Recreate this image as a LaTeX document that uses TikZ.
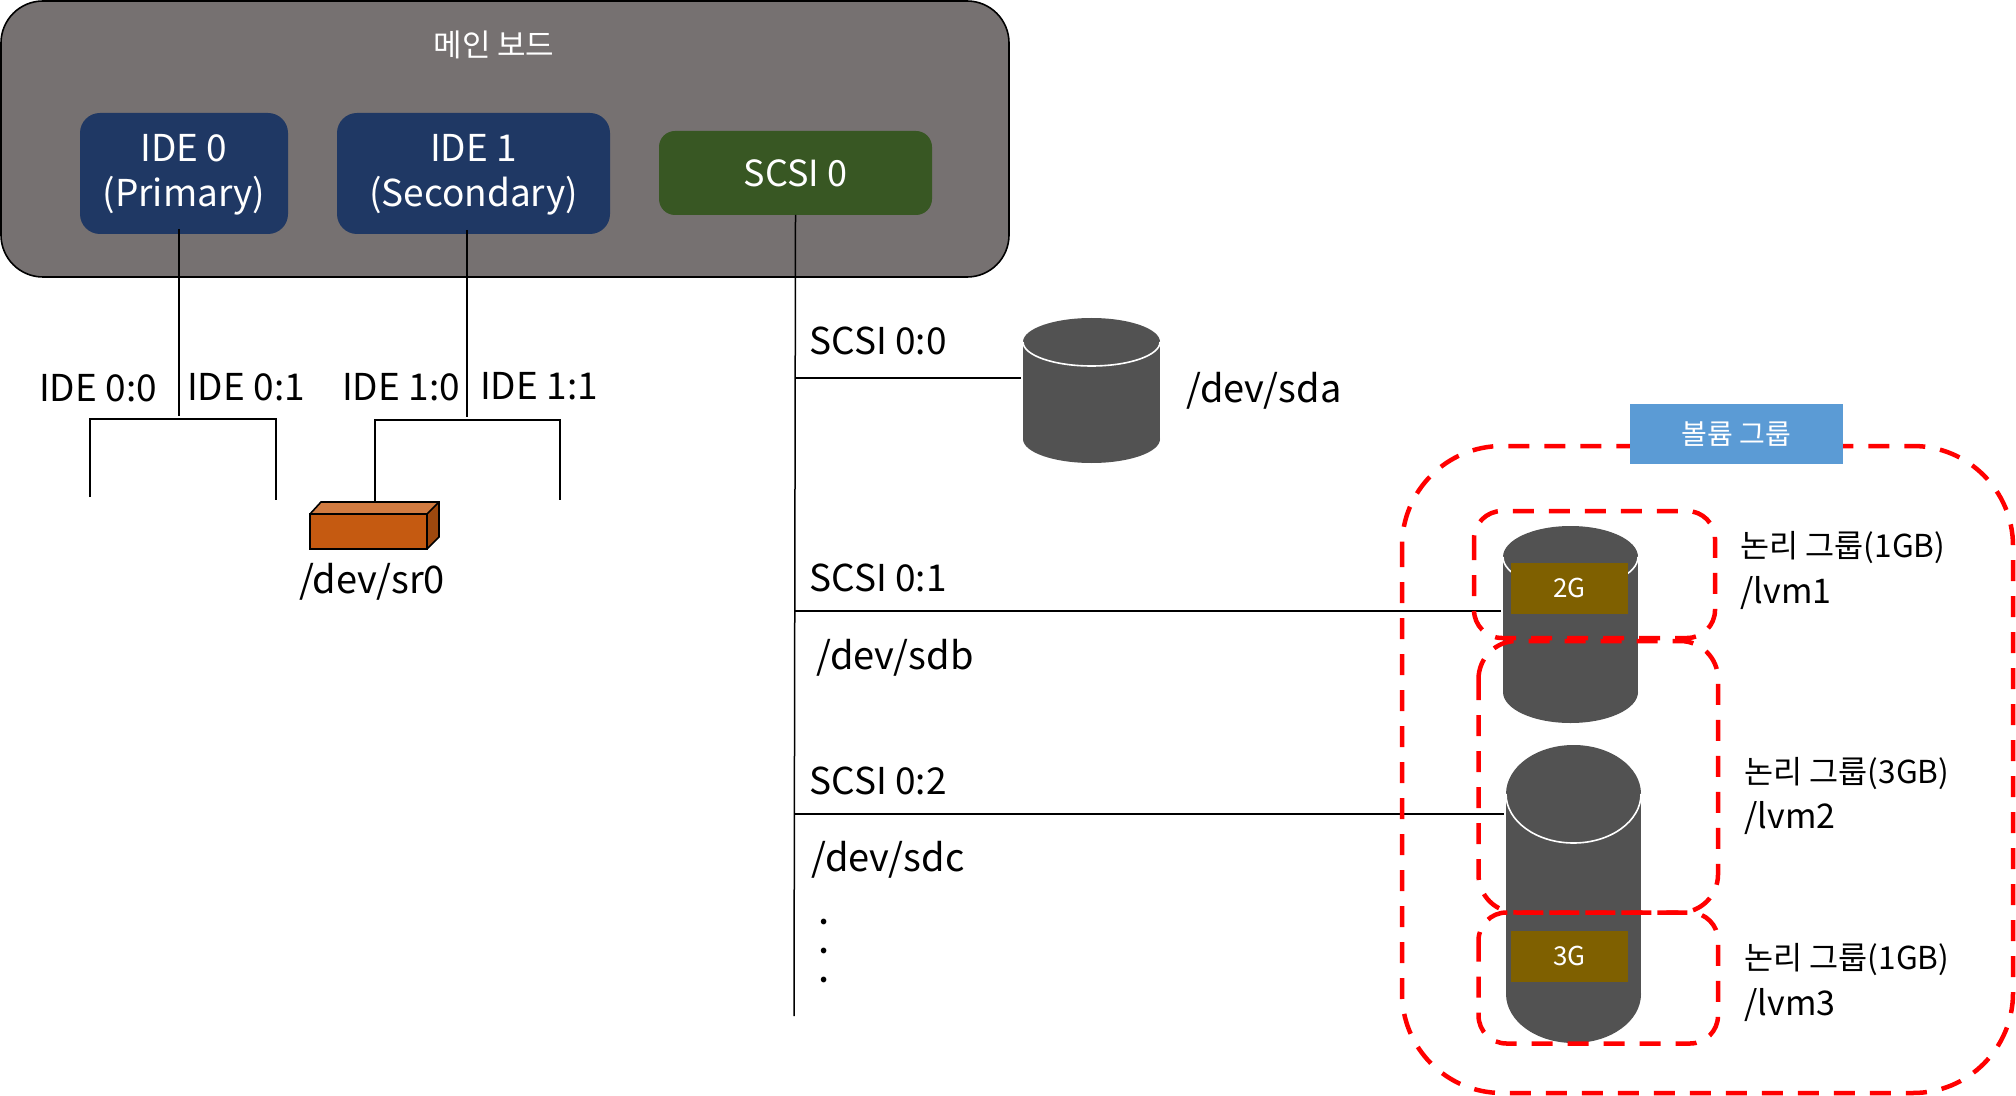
\documentclass[tikz,border=0pt]{standalone}
\usepackage{fontspec}
\setmainfont{Noto Sans CJK KR}
\definecolor{boardgray}{HTML}{767171}
\definecolor{idenavy}{HTML}{1F3864}
\definecolor{scsigreen}{HTML}{385723}
\definecolor{cylgray}{HTML}{525252}
\definecolor{olivebox}{HTML}{7F6000}
\definecolor{bluebox}{HTML}{5B9BD5}
\definecolor{brickfront}{HTML}{C55A11}
\definecolor{bricktop}{HTML}{D17B41}
\definecolor{brickside}{HTML}{9E480E}
\newcommand{\fsz}[1]{\fontsize{#1}{1.22\dimexpr #1pt\relax}\selectfont}
\tikzset{
  x=0.5pt,y=-0.5pt,
  box/.style={rectangle,inner sep=0pt,align=center,text=white},
  board/.style={box,fill=boardgray,draw=black,line width=0.8pt,rounded corners=21pt,minimum width=504pt,minimum height=138pt},
  ide/.style={box,fill=idenavy,rounded corners=10pt,minimum height=60.5pt,font=\fsz{18.5}},
  scsi/.style={box,fill=scsigreen,rounded corners=8pt,minimum width=136.5pt,minimum height=42pt,font=\fsz{18}},
  txt/.style={inner sep=0pt,text=black,font=\fsz{18.5}},
  devtxt/.style={inner sep=0pt,text=black,font=\fsz{19}},
  lvmtxt/.style={inner sep=0pt,anchor=west,text=black,font=\fsz{15.8}},
  pathtxt/.style={inner sep=0pt,anchor=west,text=black,font=\fsz{17}},
  wire/.style={draw=black,line width=0.75pt},
  group/.style={draw=red,line width=2.25pt,dash pattern=on 10.5pt off 7.5pt},
  tag/.style={box,fill=olivebox,minimum width=58.5pt,minimum height=25.5pt,font=\fsz{13}},
  brick/.style={draw=black,line width=0.8pt,line join=miter},
}
% left, right, ellipse centre y, ry, bottom y
\newcommand{\drum}[5]{%
  \pgfmathsetmacro{\drumcx}{(#1+#2)/2}%
  \pgfmathsetmacro{\drumrx}{(#2-#1)/4}%
  \pgfmathsetmacro{\drumry}{#4/2}%
  \fill[cylgray] (\drumcx,#3) ellipse[x radius=\drumrx pt,y radius=\drumry pt];
  \fill[cylgray] (\drumcx,#5-#4) ellipse[x radius=\drumrx pt,y radius=\drumry pt];
  \fill[cylgray] (#1,#3) rectangle (#2,#5-#4);
  \draw[white,line width=0.8pt] (#1,#3) arc[start angle=180,end angle=360,x radius=\drumrx pt,y radius=\drumry pt];
}
\begin{document}
\begin{tikzpicture}
\useasboundingbox (0,0) rectangle (2016,1096);

% main board
\node[board] (mb) at (505,139) {};
\node[box,font=\fsz{15.5}] (mbt) at (494,45) {메인 보드};
\node[ide,minimum width=104pt] (ide0) at (184,173.5) {\rule{0pt}{15pt}IDE 0\\(Primary)};
\node[ide,minimum width=136.5pt] (ide1) at (473.5,173.5) {\rule{0pt}{15pt}IDE 1\\(Secondary)};
\node[scsi] (scsi0) at (795.5,173) {SCSI 0};

% IDE wiring
\coordinate (a0) at (179,229);
\coordinate (b0) at (179,416);
\coordinate (l0a) at (90,419);
\coordinate (l0b) at (90,497);
\coordinate (r0a) at (276,419);
\coordinate (r0b) at (276,500);
\draw[wire] (a0) -- (b0);
\draw[wire] (l0b) -- (l0a) -- (r0a) -- (r0b);

\coordinate (a1) at (467,230);
\coordinate (b1) at (467,417);
\coordinate (l1a) at (375,420);
\coordinate (l1b) at (375,502);
\coordinate (r1a) at (560,420);
\coordinate (r1b) at (560,500);
\draw[wire] (a1) -- (b1);
\draw[wire] (l1b) -- (l1a) -- (r1a) -- (r1b);

\node[txt] (t00) at (98,388) {IDE 0:0};
\node[txt] (t01) at (246,387) {IDE 0:1};
\node[txt] (t10) at (401,387) {IDE 1:0};
\node[txt] (t11) at (539,386) {IDE 1:1};

% optical drive
\fill[brickfront] (310,514) rectangle (427,549);
\fill[bricktop] (310,514) -- (321,502) -- (439,502) -- (427,514) -- cycle;
\fill[brickside] (427,514) -- (439,502) -- (439,537) -- (427,549) -- cycle;
\draw[brick] (310,514) rectangle (427,549);
\draw[brick] (310,514) -- (321,502) -- (439,502) -- (439,537) -- (427,549);
\draw[brick] (427,514) -- (439,502);
\node[devtxt] (sr0) at (372,582) {/dev/sr0};

% SCSI wiring
\coordinate (s0) at (795.5,215);
\coordinate (s1) at (794,1016);
\coordinate (j0) at (795.3,378);
\coordinate (e0) at (1021,378);
\coordinate (j1) at (795,611);
\coordinate (e1) at (1501,611);
\coordinate (j2) at (794.7,814);
\coordinate (e2) at (1504,814);
\draw[wire] (s0) -- (s1);
\draw[wire] (j0) -- (e0);
\draw[wire] (j1) -- (e1);
\draw[wire] (j2) -- (e2);

\node[txt] (l00) at (878,341) {SCSI 0:0};
\node[devtxt] (sda) at (1264,391) {/dev/sda};
\node[txt] (l01) at (878,578) {SCSI 0:1};
\node[devtxt] (sdb) at (895,658) {/dev/sdb};
\node[txt] (l02) at (878,781) {SCSI 0:2};
\node[devtxt] (sdc) at (888,860) {/dev/sdc};
\node[txt,font=\bfseries\fontsize{13}{14.5}\selectfont,align=center] (dots) at (824,951) {.\\.\\.};

% disks
\drum{1023}{1160}{342}{24}{463}
\drum{1503}{1638}{557}{31}{723}
\drum{1506}{1641}{794}{49}{1043}

\node[tag] (g2) at (1569.5,588) {2G};
\node[tag] (g3) at (1569.5,956) {3G};

% groups
\draw[group,rounded corners=50pt] (1402,446) rectangle (2013,1093);
\draw[group,rounded corners=14pt] (1474,511) rectangle (1715,638);
\draw[group,rounded corners=19pt] (1478.5,641) rectangle (1718,912.5);
\draw[group,rounded corners=14pt] (1478.5,912.5) rectangle (1718,1043.5);

\node[box,fill=bluebox,minimum width=106.5pt,minimum height=30pt,font=\fsz{14}] (vg) at (1736.5,434) {볼륨 그룹};

\node[lvmtxt] (v1) at (1740,548) {논리 그룹(1GB)};
\node[pathtxt] (p1) at (1740,593) {/lvm1};
\node[lvmtxt] (v2) at (1744,774) {논리 그룹(3GB)};
\node[pathtxt] (p2) at (1744,818) {/lvm2};
\node[lvmtxt] (v3) at (1744,960) {논리 그룹(1GB)};
\node[pathtxt] (p3) at (1744,1005) {/lvm3};
\end{tikzpicture}
\end{document}
